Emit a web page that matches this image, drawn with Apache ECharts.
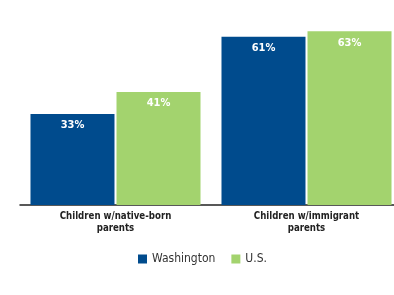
<!DOCTYPE html>
<html><head><meta charset="utf-8">
<script src="https://cdn.jsdelivr.net/npm/echarts@6/dist/echarts.min.js"></script>
<style>html,body{margin:0;padding:0;background:#fff}#c{width:394px;height:295px}</style>
</head><body><div id="c"></div>
<script>
const categories = ["Children w/native-born\nparents", "Children w/immigrant\nparents"];
const washington = [33, 61];
const us = [41, 63];
const seriesNames = ["Washington", "U.S."];

const FONT = 'DejaVu Sans Condensed, Liberation Sans Narrow, Arial Narrow, sans-serif';
const chart = echarts.init(document.getElementById('c'), null, {renderer: 'canvas'});
const labelStyle = {
  show: true, position: 'insideTop', distance: 6, color: '#fff',
  fontFamily: FONT, fontWeight: 'bold', fontSize: 11, formatter: p => p.value + '%'
};
chart.setOption({
  animation: false,
  grid: {left: 20, top: 12, width: 382, height: 193, containLabel: false, outerBoundsMode: 'none'},
  legend: {
    bottom: 25, left: 133, itemWidth: 9, itemHeight: 9, itemGap: 16,
    icon: 'rect',
    textStyle: {fontFamily: FONT, fontSize: 12, color: '#333'},
    data: seriesNames
  },
  xAxis: {
    type: 'category', data: categories,
    axisLine: {lineStyle: {color: '#222', width: 1.5}},
    axisTick: {show: false},
    axisLabel: {
      color: '#222', fontWeight: 'bold', fontSize: 9.6, lineHeight: 12, margin: 5,
      fontFamily: FONT
    }
  },
  yAxis: {type: 'value', min: 0, max: 70, show: false, splitLine: {show: false}},
  series: [
    {name: seriesNames[0], type: 'bar', data: washington, barWidth: 84, barGap: '2.4%',
     itemStyle: {color: '#004B8D'}, label: labelStyle},
    {name: seriesNames[1], type: 'bar', data: us, barWidth: 84,
     itemStyle: {color: '#A3D36E'}, label: labelStyle}
  ]
});
</script></body></html>
